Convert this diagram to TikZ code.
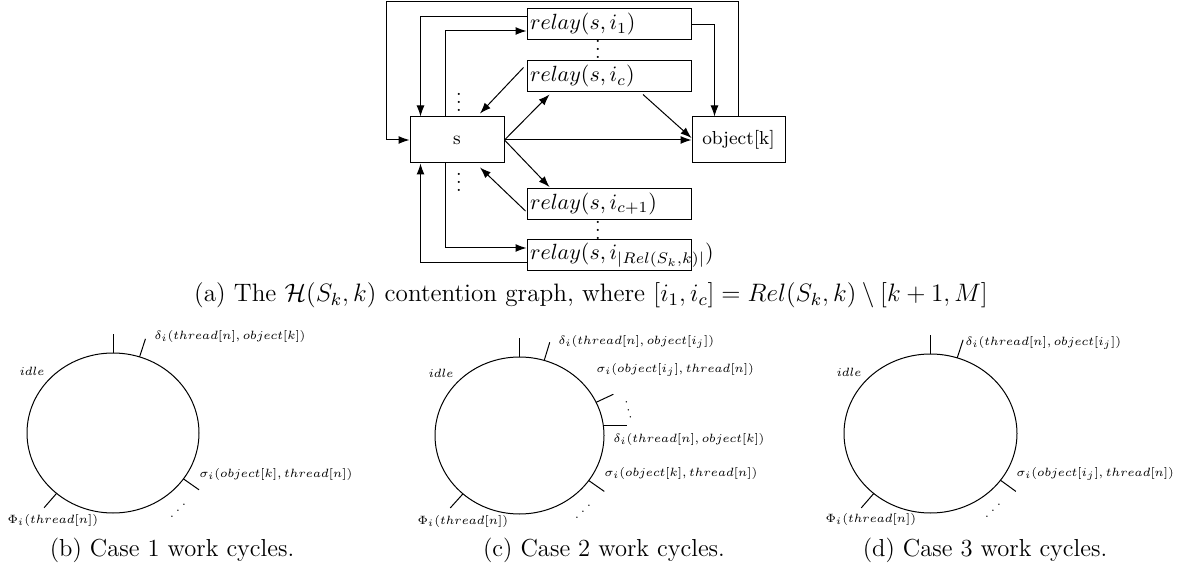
\documentclass[tikz,border=0pt]{standalone}
\usepackage{fix-cm}
\usetikzlibrary{arrows.meta,calc}
\begin{document}
\begin{tikzpicture}[x=0.5pt, y=-0.5pt, line width=0.5pt,
    >={Latex[length=5.5pt,width=4pt]},
    box/.style={draw, minimum height=23pt, font=\fontsize{9.4}{11}\selectfont},
    relaybox/.style={draw, minimum height=15.5pt, text width=79pt,
      inner xsep=1.5pt, inner ysep=1pt, align=left,
      font=\fontsize{11}{13}\selectfont},
    dotsnode/.style={inner sep=0pt, text height=9pt, text depth=0pt},
    lbl/.style={font=\fontsize{6}{7}\selectfont, inner sep=0pt},
    capt/.style={font=\fontsize{12.3}{15}\selectfont}]%
    \useasboundingbox (0,0) rectangle (1178,577);
    % contention graph
    \node[box, minimum width=47pt] (s) at (457,140) {s};
    \node[box, minimum width=46.5pt] (obj) at (738.5,140) {object[k]};
    \node[relaybox] (r1) at (609,24.5) {$relay(s,i_1)$};
    \node[relaybox] (rc) at (609,76.5) {$relay(s,i_c)$};
    \node[relaybox] (rc1) at (609,204) {$relay(s,i_{c+1})$};
    \node[relaybox] (rl) at (609,255.5) {$relay(s,i_{|Rel(S_k,k)|})$};
    \node[dotsnode] (d1) at (459,103) {$\vdots$};
    \node[dotsnode] (d2) at (459,183) {$\vdots$};
    \node[dotsnode] (d3) at (598,50) {$\vdots$};
    \node[dotsnode] (d4) at (598,231) {$\vdots$};

    \draw[->] ($(r1.west)+(0,-7.5)$) -| ($(s.north west)+(11,0)$);
    \draw[->] ($(s.north west)+(36,0)$) |- ($(r1.west)+(0,6.5)$);
    \draw[->] (r1.east) -| ($(obj.north west)+(23,0)$);
    \draw[->] (obj.north) |- ($(r1.north)+(0,-7)$)
      -| ($(s.west)+(-23,0)$) -- (s.west);
    \draw[->] ($(rc.west)+(-3,-9)$) -- ($(s.north)+(23,-3)$);
    \draw[->] (s.east) -- ($(rc.south west)+(23,2)$);
    \draw[->] (s.east) -- (obj.west);
    \draw[->] (s.east) -- ($(rc1.north west)+(23,-1)$);
    \draw[->] ($(rc.south)+(34,2)$) -- ($(obj.west)+(0,-2)$);
    \draw[->] ($(rc1.west)+(-1,7)$) -- ($(s.south)+(23,4)$);
    \draw[->] ($(s.south west)+(36,0)$) |- ($(rl.west)+(0,-7.5)$);
    \draw[->] ($(rl.west)+(0,7.5)$) -| ($(s.south west)+(11,0)$);
    \node[capt, font=\fontsize{12.6}{15}\selectfont] (capa) at (591,295)
      {(a) The $\mathcal{H}(S_k,k)$ contention graph, where
       $[i_1,i_c] = Rel(S_k,k)\setminus[k+1,M]$};

    % case 1
    \coordinate (cb) at (113,433);
    \draw (cb) ellipse [x radius=86, y radius=80];
    \foreach \a in {-90,-72,35,131}
      \draw ($(cb)+(\a:86 and 80)$) -- ($(cb)+(\a:105 and 99)$);
    \node[lbl, anchor=west] (db) at (154,336) {$\delta_i(thread[n],object[k])$};
    \node[lbl] (ib) at (32,371) {$idle$};
    \node[lbl, anchor=west] (sb) at (199,474) {$\sigma_i(object[k],thread[n])$};
    \node[lbl, anchor=west] (pb) at (7,520) {$\Phi_i(thread[n])$};
    \node[lbl, xscale=-1] (eb) at (178,505) {$\ddots$};
    \node[capt] (capb) at (172,550) {(b) Case 1 work cycles.};

    % case 2
    \coordinate (cc) at (519.5,435.5);
    \draw (cc) ellipse [x radius=84.5, y radius=78.5];
    \foreach \a in {-90,-73,-25,35,132}
      \draw ($(cc)+(\a:84.5 and 78.5)$) -- ($(cc)+(\a:103.5 and 97.5)$);
    \draw ($(cc)+(-7:84.5 and 78.5)$) -- ++(24,0);
    \node[lbl, anchor=west] (dc) at (558,342) {$\delta_i(thread[n],object[i_j])$};
    \node[lbl] (ic) at (441,373) {$idle$};
    \node[lbl, anchor=west] (sc) at (596,370) {$\sigma_i(object[i_j],thread[n])$};
    \node[lbl, rotate=14] (vc) at (627,404) {$\vdots$};
    \node[lbl, anchor=west] (dkc) at (613,439) {$\delta_i(thread[n],object[k])$};
    \node[lbl, anchor=west] (skc) at (604,473) {$\sigma_i(object[k],thread[n])$};
    \node[lbl, xscale=-1] (ec) at (583,506) {$\ddots$};
    \node[lbl, anchor=west] (pc) at (417,521) {$\Phi_i(thread[n])$};
    \node[capt] (capc) at (604,550) {(c) Case 2 work cycles.};

    % case 3
    \coordinate (cd) at (930.5,433.5);
    \draw (cd) ellipse [x radius=86.5, y radius=79.5];
    \foreach \a in {-90,-72,36,131}
      \draw ($(cd)+(\a:86.5 and 79.5)$) -- ($(cd)+(\a:105.5 and 98.5)$);
    \node[lbl, anchor=west] (dd) at (965,343) {$\delta_i(thread[n],object[i_j])$};
    \node[lbl] (id) at (849,372) {$idle$};
    \node[lbl, anchor=west] (sd) at (1016,474) {$\sigma_i(object[i_j],thread[n])$};
    \node[lbl, anchor=west] (pd) at (825,519) {$\Phi_i(thread[n])$};
    \node[lbl, xscale=-1] (ed) at (993,505) {$\ddots$};
    \node[capt] (capd) at (985,550) {(d) Case 3 work cycles.};
  \end{tikzpicture}
\end{document}
